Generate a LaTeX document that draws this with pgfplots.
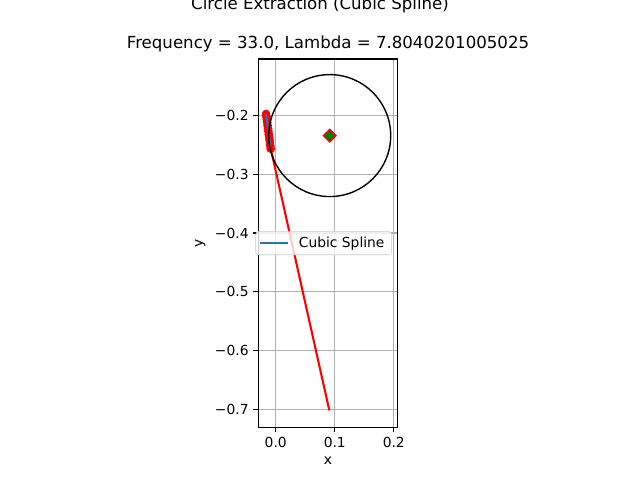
\documentclass[border=0pt]{standalone}
\usepackage{fontspec}
\setmainfont{DejaVu Sans}
\usepackage{pgfplots}
\pgfplotsset{compat=1.18}
\definecolor{mplblue}{HTML}{1F77B4}
\definecolor{mplgreen}{HTML}{008000}
\definecolor{gridgray}{HTML}{B0B0B0}
\begin{document}
\begin{tikzpicture}[x=1bp,y=1bp]
\useasboundingbox (0,0) rectangle (460.8,345.6);
\clip (0,0) rectangle (460.8,345.6);
\fill[white] (0,0) rectangle (460.8,345.6);
\node[anchor=base,font=\fontsize{12}{14}\selectfont] at (230.4,339.1) {Circle Extraction (Cubic Spline)};
\node[anchor=base,font=\fontsize{12}{14}\selectfont] at (236.2,310.8) {Frequency = 33.0, Lambda = 7.8040201005025};
\begin{axis}[
  at={(186bp,37.9bp)}, anchor=south west,
  scale only axis, width=100.4bp, height=265.2bp,
  xmin=-0.0295, xmax=0.2068, ymin=-0.7303, ymax=-0.1044,
  xtick={0,0.1,0.2}, xticklabels={0.0,0.1,0.2},
  ytick={-0.7,-0.6,-0.5,-0.4,-0.3,-0.2},
  yticklabels={−0.7,−0.6,−0.5,−0.4,−0.3,−0.2},
  tick align=outside, major tick length=3.5bp,
  tick style={black, line width=0.8bp},
  xtick pos=bottom, ytick pos=left,
  ticklabel style={font=\fontsize{10}{12}\selectfont},
  grid=major, grid style={gridgray, line width=0.8bp},
  axis line style={line width=0.8bp},
  xlabel={x}, ylabel={y},
  label style={font=\fontsize{10}{12}\selectfont},
  legend style={at={(-0.021,0.5)}, anchor=west,
    nodes={inner xsep=3bp, inner ysep=2.8bp},
    draw=gray!40, rounded corners=2bp, fill=white, fill opacity=0.8, text opacity=1,
    inner xsep=2bp, inner ysep=1bp},
  legend cell align=left,
  legend image code/.code={\draw[#1, line width=1.5bp] (0bp,0bp) -- (20.6bp,0bp);},
  clip=false, clip marker paths=true,
]
\addplot[red, line width=1.5bp, forget plot] coordinates {(-0.0085,-0.2567) (0.0908,-0.7015)};
\addplot[red, only marks, mark=*, mark size=2.9bp, forget plot] coordinates {
(-0.0164,-0.1978) (-0.0157,-0.2027) (-0.0151,-0.2076) (-0.0144,-0.2125)
(-0.0138,-0.2174) (-0.0131,-0.2223) (-0.0125,-0.2273) (-0.0118,-0.2322)
(-0.0111,-0.2371) (-0.0105,-0.2420) (-0.0098,-0.2469) (-0.0092,-0.2518)
(-0.0085,-0.2567)};
\addplot[mplblue, line width=1.5bp] coordinates {
(-0.0168,-0.1975) (-0.0157,-0.2027) (-0.0144,-0.2125) (-0.0131,-0.2223)
(-0.0118,-0.2322) (-0.0105,-0.2420) (-0.0092,-0.2516)};
\addlegendentry{\hspace{4bp}\fontsize{10}{12}\selectfont Cubic Spline}
\draw[black, line width=1bp] (axis cs:0.0915,-0.2345) circle [radius=43.9bp];
\addplot[only marks, mark=square*, mark size=3.2bp, mark options={rotate=45, fill=mplgreen, draw=red, line width=1bp}, forget plot] coordinates {(0.0915,-0.2345)};
\end{axis}
\end{tikzpicture}
\end{document}
